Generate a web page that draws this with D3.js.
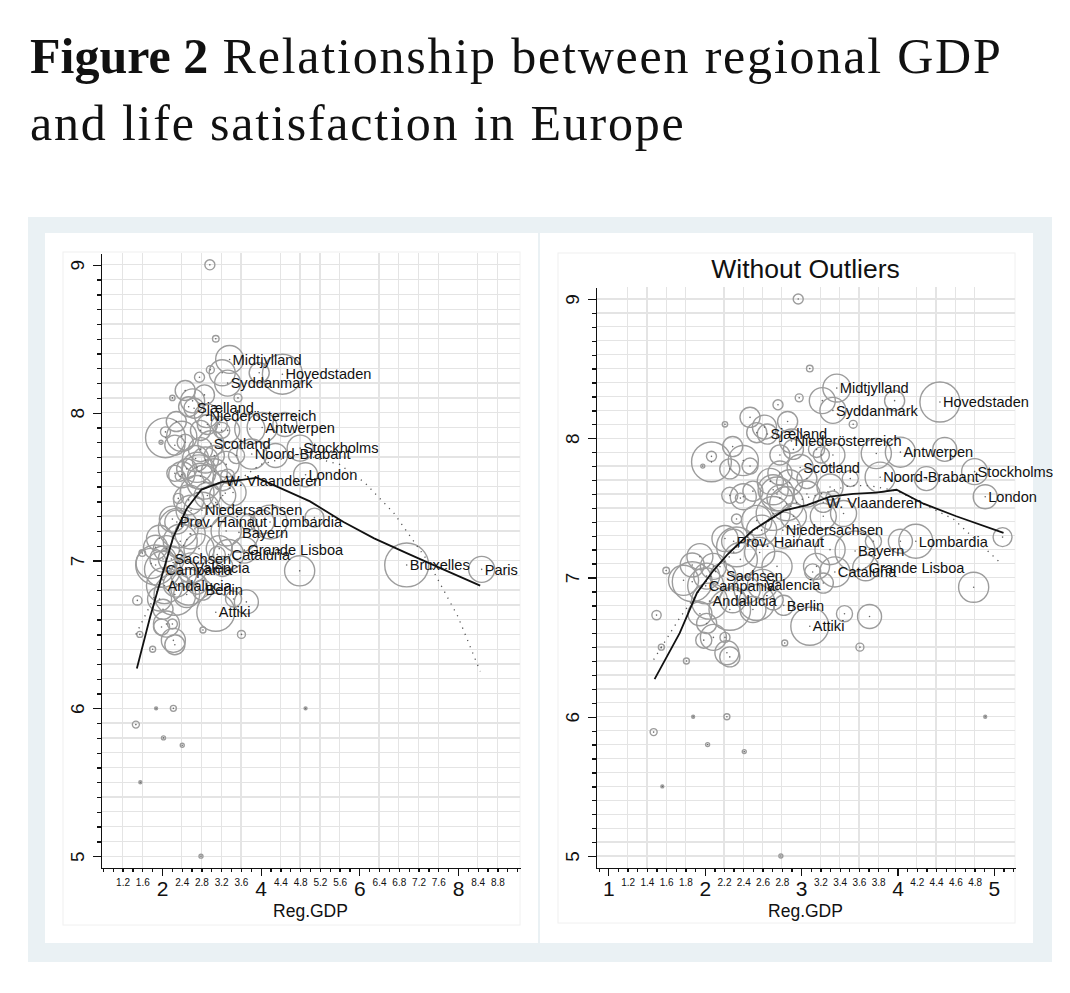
<!DOCTYPE html>
<html lang="en">
  <head>
    <meta charset="utf-8">
    <title>Figure 2 -- regional GDP and life satisfaction</title>
  </head>
  <style>
    body { margin: 0; background: #ffffff; }
    .axis path, .axis line { stroke: #111; stroke-width: 1.3; shape-rendering: crispEdges; }
    .axis text { font-family: "Liberation Sans", Arial, sans-serif; fill: #111; }
    .grid line { stroke: #e4e4e4; stroke-width: 1.3; shape-rendering: crispEdges; }
    .region_label { font-family: "Liberation Sans", Arial, sans-serif; font-size: 14.6px; fill: #111; }
    .axis_title { font-family: "Liberation Sans", Arial, sans-serif; font-size: 17.5px; fill: #111; text-anchor: middle; }
    .fig_title { font-family: "Liberation Serif", "DejaVu Serif", serif; font-size: 50px; fill: #111; }
  </style>
  <body>
    <div id="svg-area"></div>
    <script src="https://cdn.jsdelivr.net/npm/d3@7"></script>
    <script>
      const svg_width = 1070;
      const svg_height = 993;

      // labelled regions (GDP, life satisfaction, population weight)
      const labelledNames = ['Midtjylland','Hovedstaden','Syddanmark','Sjælland','Niederösterreich','Antwerpen',
        'Scotland','Noord-Brabant','Stockholms','London','W. Vlaanderen','Niedersachsen','Prov. Hainaut',
        'Lombardia','Bayern','Cataluña','Grande Lisboa','Sachsen','Campania','Valencia','Andalucia','Berlin',
        'Attiki','Bruxelles','Paris'];
      const labelledGdp = [3.37,4.44,3.33,2.65,2.90,4.03,2.99,3.82,4.80,4.91,3.23,2.81,2.30,
        4.19,3.56,3.35,3.67,2.19,2.01,2.60,2.05,2.82,3.09,6.96,8.48];
      const labelledLs = [8.36,8.26,8.20,8.03,7.98,7.90,7.79,7.72,7.76,7.58,7.54,7.34,7.26,
        7.26,7.19,7.04,7.07,7.01,6.94,6.95,6.83,6.80,6.65,6.97,6.94];
      const labelledPop = [5.4,11.1,4.7,2.8,4.0,6.3,4.7,6.3,4.7,4.0,2.8,9.0,4.0,
        8.0,11.1,6.3,4.7,4.7,9.0,6.3,9.0,2.8,10.0,13.4,4.7];

      // other regions, no label
      const otherGdp = [2.97,3.09,2.98,2.76,3.54,2.21,2.47,2.54,2.86,2.62,2.29,2.07,2.07,1.98,2.26,2.47,
        2.78,3.21,3.33,3.16,2.92,4.49,4.30,3.51,2.68,2.50,2.26,2.37,2.78,3.06,3.33,2.71,2.92,3.23,2.33,
        2.21,2.59,4.03,3.75,5.09,4.79,3.71,3.45,2.83,3.61,2.50,2.71,3.23,3.12,2.37,2.09,1.78,1.87,1.60,
        1.50,1.55,1.81,1.95,2.02,1.99,2.09,2.23,2.21,2.29,2.44,1.87,2.26,2.54,2.26,2.33,2.57,2.75,3.16,
        2.54,2.02,2.40,2.71,2.88,3.06,3.30,3.44,3.78,3.30,1.95,2.40,2.75,2.85,2.78,3.22,3.97,
        1.47,1.56,1.88,2.23,2.03,2.41,2.79,4.91];
      const otherLs = [9.00,8.50,8.29,8.24,8.10,8.10,8.15,8.04,8.12,8.08,7.94,7.83,7.87,7.80,7.78,7.80,
        7.88,7.88,7.88,7.92,7.92,7.92,7.71,7.71,7.69,7.62,7.59,7.57,7.57,7.71,7.57,7.46,7.44,7.44,7.42,
        7.28,7.34,7.26,7.26,7.29,6.93,6.72,6.74,6.53,6.50,6.77,6.84,6.96,7.04,7.13,7.08,6.98,7.09,7.05,
        6.73,6.50,6.40,6.74,6.67,6.55,6.57,6.46,6.57,6.84,6.91,6.97,6.77,6.82,6.43,7.22,7.18,7.08,7.08,
        7.41,7.01,7.58,7.63,7.68,7.60,7.65,7.46,7.89,7.20,7.15,7.84,7.60,7.53,7.75,8.27,8.27,
        5.89,5.50,6.00,6.00,5.80,5.75,5.00,6.00];
      const otherPop = [0.7,0.3,0.44,0.7,0.44,0.2,2.8,2.8,2.8,4.0,2.8,11,0.7,0.11,2.8,1.8,
        2.8,1.8,4.0,1.8,2.8,4.0,4.0,1.8,4.7,2.8,1.8,0.7,4.7,2.8,1.4,8.0,4.7,4.7,0.7,
        4.7,6.3,4.0,1.8,2.5,6.3,4.0,1.8,0.25,0.44,4.7,2.8,2.8,1.8,8.0,4.7,6.3,4.0,0.3,
        0.6,0.25,0.25,4.0,2.8,1.8,4.7,4.0,0.7,4.7,4.7,11,12,9.0,2.8,11,6.3,6.3,4.7,
        6.3,4.7,4.7,6.3,4.7,4.7,4.7,4.7,6.3,6.3,4.7,6.3,8.0,8.0,4.0,4.7,2.8,
        0.34,0.06,0.06,0.25,0.11,0.11,0.11,0.06];

      const outlierNames = ['Bruxelles','Paris'];

      // fitted lines: lowess (solid), quadratic (dotted)
      const lowessAllGdp = [1.49,1.76,2.0,2.23,2.5,2.8,3.04,3.2,3.51,3.92,4.4,5.0,5.68,6.3,6.96,7.7,8.45];
      const lowessAllLs = [6.27,6.62,6.90,7.16,7.35,7.48,7.51,7.53,7.54,7.56,7.49,7.40,7.26,7.15,7.05,6.94,6.83];
      const quadAllGdp = [1.47,2.0,2.5,3.0,3.5,4.0,4.8,5.6,6.1,6.7,7.4,8.0,8.45];
      const quadAllLs = [6.50,6.86,7.14,7.36,7.53,7.65,7.72,7.65,7.53,7.32,6.99,6.62,6.25];
      const lowessTrimGdp = [1.48,1.74,1.92,2.09,2.23,2.5,2.82,3.06,3.3,3.54,3.78,3.99,4.27,4.61,5.10];
      const lowessTrimLs = [6.27,6.60,6.89,7.05,7.16,7.34,7.48,7.52,7.58,7.60,7.61,7.63,7.53,7.44,7.32];
      const quadTrimGdp = [1.47,1.74,2.0,2.5,3.0,3.5,3.71,4.0,4.58,5.06];
      const quadTrimLs = [6.41,6.71,6.96,7.33,7.56,7.66,7.66,7.62,7.42,7.11];

      // tick labels
      const yMajorLabels = [5,6,7,8,9];
      const leftMajorLabels = [2,4,6,8];
      const leftMinorLabels = [1.2,1.6,2.4,2.8,3.2,3.6,4.4,4.8,5.2,5.6,6.4,6.8,7.2,7.6,8.4,8.8];
      const rightMajorLabels = [1,2,3,4,5];
      const rightMinorLabels = [1.2,1.4,1.6,1.8,2.2,2.4,2.6,2.8,3.2,3.4,3.6,3.8,4.2,4.4,4.6,4.8];

      const labelled = labelledNames.map((n,i) => ({ name: n, gdp: labelledGdp[i], ls: labelledLs[i], pop: labelledPop[i] }));
      const others = otherGdp.map((g,i) => ({ name: '', gdp: g, ls: otherLs[i], pop: otherPop[i] }));
      const allRegions = others.concat(labelled);
      const trimRegions = allRegions.filter(d => !outlierNames.includes(d.name));

      const zip = (xs, ys) => xs.map((x,i) => [x, ys[i]]);

      //create SVG element
      const svg = d3.select('#svg-area')
        .append('svg')
        .attr('width',svg_width)
        .attr('height',svg_height);

      //title
      const title = svg.append('text')
        .attr('class','fig_title')
        .attr('x',30).attr('y',73);
      title.append('tspan').attr('font-weight','bold').text('Figure 2');
      title.append('tspan').style('letter-spacing','1.8px').text(' Relationship between regional GDP');
      svg.append('text')
        .attr('class','fig_title')
        .attr('x',30).attr('y',140)
        .style('letter-spacing','1.8px')
        .text('and life satisfaction in Europe');

      //panel backgrounds
      svg.append('rect').attr('x',28).attr('y',217).attr('width',1024).attr('height',745).attr('fill','#eaf1f4');
      svg.append('rect').attr('x',45).attr('y',233).attr('width',493).attr('height',710).attr('fill','#fff');
      svg.append('rect').attr('x',540).attr('y',233).attr('width',493).attr('height',710).attr('fill','#fff');

      const r_scale = d3.scaleSqrt().domain([0,16]).range([0,24]);

      function drawPanel(cfg) {
        const g = svg.append('g');
        const x = d3.scaleLinear().domain(cfg.xDomain).range([cfg.left, cfg.right]);
        const y = d3.scaleLinear().domain(cfg.yDomain).range([cfg.bottom, cfg.top]);

        //plot region outline
        g.append('rect')
          .attr('x',cfg.box[0]).attr('y',cfg.box[1])
          .attr('width',cfg.box[2]-cfg.box[0]).attr('height',cfg.box[3]-cfg.box[1])
          .attr('fill','none').attr('stroke','#f0f0f0');

        //grid
        const yGrid = d3.range(50,91).map(v => v/10);
        g.append('g').attr('class','grid')
          .selectAll('line').data(yGrid).enter().append('line')
          .attr('x1',cfg.left).attr('x2',cfg.right)
          .attr('y1',d => y(d)).attr('y2',d => y(d));
        g.append('g').attr('class','grid')
          .selectAll('line').data(cfg.minorLabels).enter().append('line')
          .attr('x1',d => x(d)).attr('x2',d => x(d))
          .attr('y1',cfg.top).attr('y2',cfg.bottom);

        //bubbles
        g.append('g')
          .selectAll('circle').data(cfg.data).enter()
          .append('circle')
          .attr('cx',d => x(d.gdp))
          .attr('cy',d => y(d.ls))
          .attr('r',d => r_scale(d.pop))
          .attr('fill','none')
          .attr('stroke','#9c9c9c')
          .attr('stroke-width',1.4);

        //centre points
        g.append('g')
          .selectAll('circle').data(cfg.data).enter()
          .append('circle')
          .attr('cx',d => x(d.gdp))
          .attr('cy',d => y(d.ls))
          .attr('r',0.8)
          .attr('fill','#666');

        //labels
        g.append('g')
          .selectAll('text').data(cfg.data.filter(d => d.name)).enter()
          .append('text')
          .attr('class','region_label')
          .attr('x',d => x(d.gdp)+3)
          .attr('y',d => y(d.ls))
          .attr('dy','0.36em')
          .text(d => d.name);

        //fits
        const line = d3.line().x(d => x(d[0])).y(d => y(d[1])).curve(d3.curveLinear);
        g.append('path').datum(cfg.quad)
          .attr('d',line).attr('fill','none')
          .attr('stroke','#555').attr('stroke-width',1.3)
          .attr('stroke-dasharray','1.2,5.5');
        g.append('path').datum(cfg.lowess)
          .attr('d',line).attr('fill','none')
          .attr('stroke','#111').attr('stroke-width',1.8);

        //x axis: minor ticks, minor labels, major labels
        const xa = g.append('g').attr('class','axis').attr('transform',`translate(0,${cfg.bottom})`);
        xa.append('g').call(d3.axisBottom(x).tickValues(cfg.xMinorTicks).tickSize(4).tickSizeOuter(0).tickFormat(''));
        const xMin = xa.append('g').call(d3.axisBottom(x).tickValues(cfg.minorLabels).tickSize(4).tickPadding(7).tickFormat(d3.format('.1f')));
        xMin.selectAll('text').style('font-size','10px');
        xMin.select('.domain').remove();
        const xMaj = xa.append('g').call(d3.axisBottom(x).tickValues(cfg.majorLabels).tickSize(8).tickPadding(5).tickFormat(d3.format('d')));
        xMaj.selectAll('text').style('font-size','21px');
        xMaj.select('.domain').remove();

        //y axis
        const ya = g.append('g').attr('class','axis').attr('transform',`translate(${cfg.left},0)`);
        ya.append('g').call(d3.axisLeft(y).tickValues(yGrid).tickSize(4).tickSizeOuter(0).tickFormat(''));
        const yMaj = ya.append('g').call(d3.axisLeft(y).tickValues(yMajorLabels).tickSize(8).tickFormat(d3.format('d')));
        yMaj.select('.domain').remove();
        yMaj.selectAll('text')
          .style('font-size','19px')
          .attr('text-anchor','middle')
          .attr('transform','rotate(-90)')
          .attr('x',0).attr('dy',0)
          .attr('y',-17.5);

        //axis title
        g.append('text').attr('class','axis_title')
          .attr('x',(cfg.left+cfg.right)/2).attr('y',916.5)
          .text('Reg.GDP');

        if (cfg.title) {
          g.append('text')
            .attr('x',(cfg.left+cfg.right)/2).attr('y',278)
            .attr('text-anchor','middle')
            .style('font-family','"Liberation Sans", Arial, sans-serif')
            .style('font-size','26.5px')
            .attr('fill','#111')
            .text(cfg.title);
        }
      }

      drawPanel({
        data: allRegions,
        xDomain: [0.763, 9.257], yDomain: [4.92, 9.08],
        left: 101, right: 520, top: 253, bottom: 868,
        box: [63, 252, 520, 925],
        xMinorTicks: d3.range(4, 47).map(v => v/5),
        minorLabels: leftMinorLabels, majorLabels: leftMajorLabels,
        lowess: zip(lowessAllGdp, lowessAllLs),
        quad: zip(quadAllGdp, quadAllLs)
      });

      drawPanel({
        data: trimRegions,
        xDomain: [0.872, 5.219], yDomain: [4.914, 9.086],
        left: 596, right: 1015, top: 287, bottom: 868,
        box: [558, 253, 1015, 923],
        xMinorTicks: d3.range(9, 53).map(v => v/10),
        minorLabels: rightMinorLabels, majorLabels: rightMajorLabels,
        lowess: zip(lowessTrimGdp, lowessTrimLs),
        quad: zip(quadTrimGdp, quadTrimLs),
        title: 'Without Outliers'
      });
    </script>
  </body>
</html>
